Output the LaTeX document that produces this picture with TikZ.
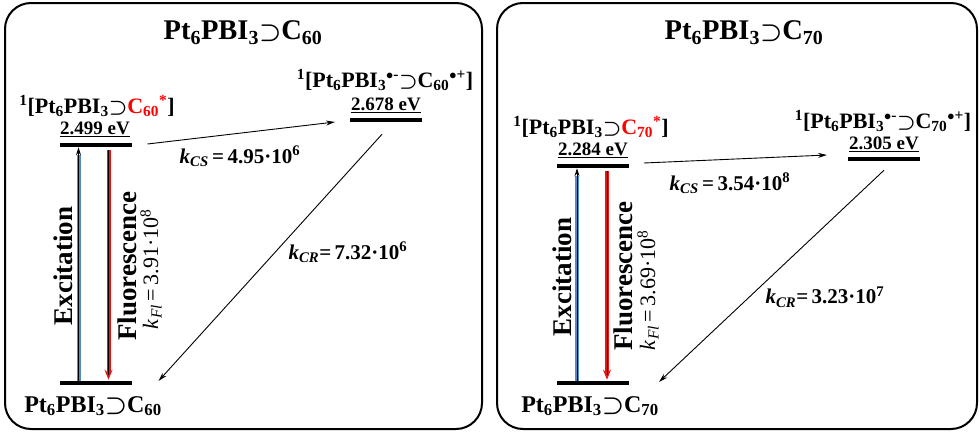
\documentclass[tikz,border=0pt]{standalone}
\usepackage{fontspec}
\setmainfont{Liberation Serif}
\usetikzlibrary{arrows.meta}
\definecolor{exblue}{RGB}{80,140,200}
\definecolor{flred}{RGB}{235,20,20}
\newcommand\ptpbi{Pt\textsubscript{6}PBI\textsubscript{3}}
\newcommand\sps{\mbox{\boldmath$\supset$}}
\newcommand\rad[1]{\textsuperscript{$\bullet$#1}}
\begin{document}
\begin{tikzpicture}[x=1pt,y=-1pt,
  panel/.style={draw=black,line width=2pt,rounded corners=26pt},
  title/.style={font=\fontsize{28.5}{31}\selectfont\bfseries,inner sep=0pt},
  slabel/.style={font=\fontsize{22}{25}\selectfont\bfseries,inner sep=0pt},
  glabel/.style={font=\fontsize{24}{27}\selectfont\bfseries,inner sep=0pt},
  evlabel/.style={font=\fontsize{19}{22}\selectfont\bfseries,inner sep=0pt},
  klabel/.style={font=\fontsize{21}{24}\selectfont\bfseries,inner sep=0pt},
  vlabel/.style={font=\fontsize{27}{30}\selectfont\bfseries,inner sep=0pt,rotate=90},
  kfl/.style={font=\fontsize{22}{25}\selectfont,inner sep=0pt,rotate=90},
  bar/.style={fill=black,minimum width=72pt,minimum height=4.5pt,inner sep=0pt,outer sep=0pt},
  thinarrow/.style={line width=0.9pt,-{Stealth[length=9pt,width=5pt]}},
]
\useasboundingbox (0,0) rectangle (980,434);
% ---------- left panel ----------
\draw[panel] (5,3) rectangle (482,429);
\node[title] (t1) at (243,33) {\ptpbi\sps C\textsubscript{60}};
\node[bar] (e1) at (95.5,145) {};
\node[bar] (c1) at (386,120) {};
\node[bar] (g1) at (95.5,383) {};
\node[slabel] (s1) at (97,106) {\textsuperscript{1}[\ptpbi\sps\textcolor{red}{C\textsubscript{60}\textsuperscript{*}}]};
\node[evlabel] (v1) at (95,129) {\underline{2.499 eV}};
\node[slabel] (r1) at (385,80) {\textsuperscript{1}[\ptpbi\rad{-}\sps C\textsubscript{60}\rad{+}]};
\node[evlabel] (w1) at (386,105) {\underline{2.678 eV}};
\node[glabel] (gl1) at (93,406) {\ptpbi\sps C\textsubscript{60}};
\node[klabel] (kcs1) at (240,156) {\textit{k}\textsubscript{\textit{CS}}\,=\,4.95·10\textsuperscript{6}};
\node[klabel] (kcr1) at (348,252) {\textit{k}\textsubscript{\textit{CR}}=\,7.32·10\textsuperscript{6}};
\node[vlabel] (ex1) at (63,266) {Excitation};
\node[vlabel] (fl1) at (127,266) {Fluorescence};
\node[kfl] (kf1) at (151,269) {\textit{k}\textsubscript{\textit{Fl}}\,=\,3.91·10\textsuperscript{8}};
% excitation arrow
\draw[exblue,line width=4pt] ([xshift=-17pt]g1.north) -- ([xshift=-17pt,yshift=-8pt]e1.south);
\draw[black,line width=1pt,-{Stealth[length=8pt,width=5pt]}] ([xshift=-17pt]g1.north) -- ([xshift=-17pt]e1.south);
% fluorescence arrow
\draw[flred,line width=4pt,-{Stealth[length=10pt,width=8pt]}] ([xshift=13pt,yshift=-3pt]e1.south) -- ([xshift=13pt,yshift=1pt]g1.north);
\draw[black,line width=1pt] ([xshift=13pt,yshift=-3pt]e1.south) -- ([xshift=13pt,yshift=6pt]g1.north);
% CS and CR
\draw[thinarrow] ([xshift=16pt,yshift=1pt]e1.east) -- ([xshift=-15pt,yshift=-2pt]c1.west);
\draw[thinarrow] ([xshift=-4pt,yshift=-12pt]c1.south) -- ([xshift=27pt,yshift=2pt]g1.east);
% ---------- right panel ----------
\draw[panel] (497,3) rectangle (977,429);
\node[title] (t2) at (744,33) {\ptpbi\sps C\textsubscript{70}};
\node[bar] (e2) at (593,166) {};
\node[bar] (c2) at (884,159) {};
\node[bar] (g2) at (593,383) {};
\node[slabel] (s2) at (591,127) {\textsuperscript{1}[\ptpbi\sps\textcolor{red}{C\textsubscript{70}\textsuperscript{*}}]};
\node[evlabel] (v2) at (593,150) {\underline{2.284 eV}};
\node[slabel] (r2) at (883,121) {\textsuperscript{1}[\ptpbi\rad{-}\sps C\textsubscript{70}\rad{+}]};
\node[evlabel] (w2) at (884,144) {\underline{2.305 eV}};
\node[glabel] (gl2) at (590,406) {\ptpbi\sps C\textsubscript{70}};
\node[klabel] (kcs2) at (730,183) {\textit{k}\textsubscript{\textit{CS}}\,=\,3.54·10\textsuperscript{8}};
\node[klabel] (kcr2) at (825,297) {\textit{k}\textsubscript{\textit{CR}}=\,3.23·10\textsuperscript{7}};
\node[vlabel] (ex2) at (562,277) {Excitation};
\node[vlabel] (fl2) at (623,276) {Fluorescence};
\node[kfl] (kf2) at (648,290) {\textit{k}\textsubscript{\textit{Fl}}\,=\,3.69·10\textsuperscript{8}};
\draw[exblue,line width=4pt] ([xshift=-16pt]g2.north) -- ([xshift=-16pt,yshift=-8pt]e2.south);
\draw[black,line width=1pt,-{Stealth[length=8pt,width=5pt]}] ([xshift=-16pt]g2.north) -- ([xshift=-16pt]e2.south);
\draw[flred,line width=4pt,-{Stealth[length=10pt,width=8pt]}] ([xshift=14pt,yshift=-3pt]e2.south) -- ([xshift=14pt,yshift=1pt]g2.north);
\draw[black,line width=1pt] ([xshift=14pt,yshift=-3pt]e2.south) -- ([xshift=14pt,yshift=6pt]g2.north);
\draw[thinarrow] ([xshift=15pt,yshift=3pt]e2.east) -- ([xshift=-21pt,yshift=4pt]c2.west);
\draw[thinarrow] ([yshift=-9pt]c2.south) -- ([xshift=30pt,yshift=1pt]g2.east);
\end{tikzpicture}
\end{document}
